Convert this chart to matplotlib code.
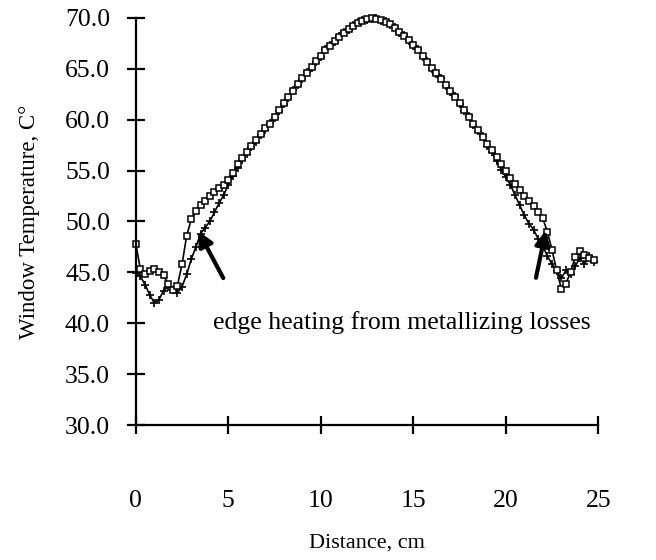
import matplotlib
matplotlib.use("Agg")
import matplotlib.pyplot as plt

plt.rcParams['font.family'] = ['Liberation Serif', 'DejaVu Serif']

# distance along the window, cm
distance = [0.0, 0.25, 0.5, 0.75, 1.0, 1.25, 1.5, 1.75, 2.0, 2.25,
            2.5, 2.75, 3.0, 3.25, 3.5, 3.75, 4.0, 4.25, 4.5, 4.75,
            5.0, 5.25, 5.5, 5.75, 6.0, 6.25, 6.5, 6.75, 7.0, 7.25,
            7.5, 7.75, 8.0, 8.25, 8.5, 8.75, 9.0, 9.25, 9.5, 9.75,
            10.0, 10.25, 10.5, 10.75, 11.0, 11.25, 11.5, 11.75, 12.0, 12.25,
            12.5, 12.75, 13.0, 13.25, 13.5, 13.75, 14.0, 14.25, 14.5, 14.75,
            15.0, 15.25, 15.5, 15.75, 16.0, 16.25, 16.5, 16.75, 17.0, 17.25,
            17.5, 17.75, 18.0, 18.25, 18.5, 18.75, 19.0, 19.25, 19.5, 19.75,
            20.0, 20.25, 20.5, 20.75, 21.0, 21.25, 21.5, 21.75, 22.0, 22.25,
            22.5, 22.75, 23.0, 23.25, 23.5, 23.75, 24.0, 24.25, 24.5, 24.75]

# scan 1 (open squares)
temp_a = [47.8, 45.3, 44.8, 45.1, 45.3, 45.0, 44.7, 43.9, 43.3, 43.7,
          45.8, 48.6, 50.2, 51.0, 51.6, 52.0, 52.5, 52.9, 53.3, 53.6,
          54.1, 54.8, 55.6, 56.2, 56.8, 57.4, 58.0, 58.6, 59.2, 59.6,
          60.3, 61.0, 61.6, 62.2, 62.8, 63.5, 64.1, 64.6, 65.2, 65.8,
          66.3, 66.8, 67.2, 67.7, 68.1, 68.5, 68.9, 69.2, 69.5, 69.7,
          69.9, 70.0, 69.9, 69.8, 69.6, 69.4, 69.0, 68.6, 68.2, 67.8,
          67.3, 66.8, 66.3, 65.7, 65.1, 64.6, 64.0, 63.4, 62.8, 62.2,
          61.6, 61.0, 60.3, 59.6, 59.0, 58.3, 57.6, 57.0, 56.3, 55.6,
          55.0, 54.3, 53.7, 53.1, 52.5, 52.0, 51.5, 50.9, 50.3, 49.0,
          47.2, 45.2, 43.4, 43.9, 45.0, 46.5, 47.1, 46.7, 46.4, 46.2]

# scan 2 (crosses)
temp_b = [44.9, 44.6, 43.8, 42.8, 42.0, 42.3, 43.2, 43.6, 43.3, 43.0,
          43.6, 44.8, 46.3, 47.5, 48.8, 49.4, 50.0, 50.9, 51.8, 52.6,
          53.6, 54.5, 55.3, 56.0, 56.6, 57.3, 57.8, 58.5, 59.0, 59.7,
          60.2, 60.9, 61.5, 62.1, 62.9, 63.4, 64.0, 64.7, 65.1, 65.7,
          66.2, 66.9, 67.3, 67.6, 68.2, 68.6, 68.8, 69.3, 69.6, 69.8,
          69.8, 69.9, 70.0, 69.7, 69.7, 69.3, 69.1, 68.5, 68.3, 67.7,
          67.2, 66.9, 66.2, 65.8, 65.0, 64.5, 64.1, 63.3, 62.7, 62.3,
          61.5, 60.9, 60.4, 59.5, 58.9, 58.4, 57.4, 56.8, 55.9, 55.1,
          54.4, 53.6, 52.6, 51.6, 50.6, 49.8, 49.2, 48.3, 47.6, 46.6,
          45.8, 45.1, 44.4, 45.2, 44.8, 45.6, 46.4, 45.8, 46.6, 46.0]

x_ticks = [0, 5, 10, 15, 20, 25]
y_ticks = [30, 35, 40, 45, 50, 55, 60, 65, 70]

fig = plt.figure(figsize=(6.56, 5.6), dpi=100)
ax = fig.add_axes([0.207, 0.241, 0.705, 0.727])

ax.plot(distance, temp_b, color='black', lw=1.2, marker='+', ms=5.5,
        mew=1.2, clip_on=False)
ax.plot(distance, temp_a, color='black', lw=1.2, marker='s', ms=4.5,
        mfc='white', mec='black', mew=1.1, clip_on=False)

# arrows pointing at the edge heating
arrow = dict(arrowstyle='-|>', lw=3, color='black', mutation_scale=22)
ax.annotate('', xy=(3.3, 49.3), xytext=(4.8, 44.2), arrowprops=arrow)
ax.annotate('', xy=(22.2, 49.4), xytext=(21.6, 44.2), arrowprops=arrow)
ax.text(4.2, 40.1, 'edge heating from metallizing losses', fontsize=18.5,
        ha='left', va='center')

ax.set_xlim(0, 25)
ax.set_ylim(30, 70)
ax.set_xticks(x_ticks)
ax.set_yticks(y_ticks)
ax.set_yticklabels(['%.1f' % v for v in y_ticks])
for side in ['top', 'right']:
    ax.spines[side].set_visible(False)
for side in ['left', 'bottom']:
    ax.spines[side].set_linewidth(1.6)
ax.tick_params(axis='both', direction='inout', length=13, width=1.6,
               labelsize=18.5)
ax.tick_params(axis='x', pad=40)
ax.tick_params(axis='y', pad=12)

ax.set_xlabel('Distance, cm', fontsize=16, labelpad=16)
ax.set_ylabel('Window Temperature, C°', fontsize=16.5, labelpad=18)

fig.savefig('out.png', dpi=100)
